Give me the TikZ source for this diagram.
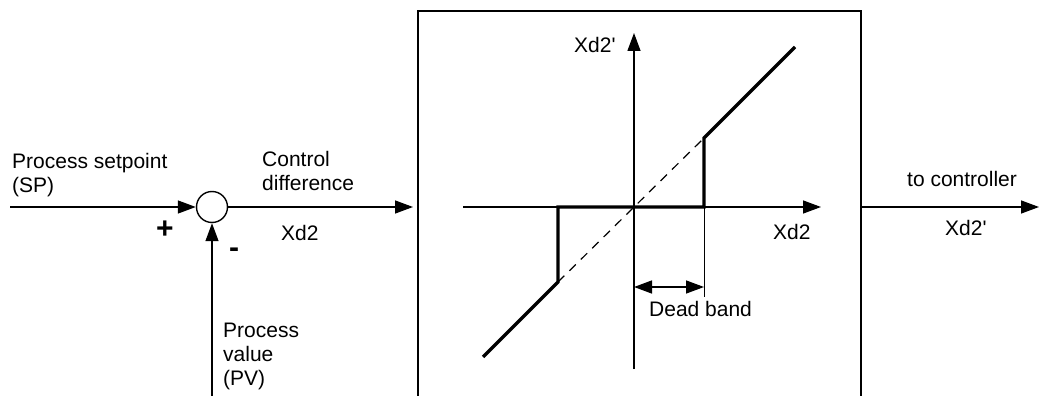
\documentclass[tikz,border=0pt]{standalone}
\usepackage{fontspec}
\setmainfont{Liberation Sans}[Ligatures=TeXOff]
\usetikzlibrary{arrows.meta}
\begin{document}
\begin{tikzpicture}[x=1pt,y=-1pt,
  thinline/.style={line width=1.4pt},
  arr/.style={thinline,-{Triangle[length=18pt,width=13pt]}},
  darr/.style={thinline,{Triangle[length=18pt,width=13pt]}-{Triangle[length=18pt,width=13pt]}},
  lbl/.style={inner sep=0pt,anchor=base west,align=left,font=\fontsize{21}{24}\selectfont},
  sgn/.style={inner sep=0pt,font=\fontsize{30}{30}\selectfont\bfseries},
  curve/.style={line width=3.2pt,line join=miter},
  dashline/.style={line width=1.2pt,dash pattern=on 9pt off 7pt}]
\useasboundingbox (0,0) rectangle (1039,396);
% summing point and block
\node[draw,thinline,circle,minimum size=31pt,inner sep=0pt] (sum) at (212,207) {};
\node[draw,line width=1.8pt,rectangle,anchor=north west,minimum width=443pt,minimum height=392pt,inner sep=0pt] (box) at (417,10) {};
% signal connectors
\coordinate (spin) at (10,207);
\coordinate (pvin) at (212,400);
\coordinate (out) at (1039,207);
\draw[arr] (spin) -- (sum.west);
\draw[arr] (pvin) -- (sum.south);
\draw[arr,shorten >=4pt] (sum.east) -- (box.west |- sum);
\draw[arr] (box.east |- sum) -- (out);
% labels outside (base anchor = last line)
\node[lbl] (lsp) at (12,192) {Process setpoint\\(SP)};
\node[lbl] (lcd) at (262,190) {Control\\difference};
\node[lbl] (lxd) at (281,240) {Xd2};
\node[lbl] (lpv) at (223,385) {Process\\value\\(PV)};
\node[lbl] (ltc) at (907,186) {to controller};
\node[lbl] (lxo) at (945,235) {Xd2'};
\node[sgn] (plus) at (165,230) {+};
\node[sgn] (minus) at (234,253) {-};
% characteristic
\coordinate (O) at (634,207);
\coordinate (xa) at (463,207);
\coordinate (xb) at (821,207);
\coordinate (ya) at (634,369);
\coordinate (yb) at (634,33);
\draw[arr] (xa) -- (xb);
\draw[arr] (ya) -- (yb);
\coordinate (p1) at (483,357);
\coordinate (p2) at (558,282);
\coordinate (p3) at (558,207);
\coordinate (p4) at (704,207);
\coordinate (p5) at (704,138);
\coordinate (p6) at (795,47);
\draw[dashline] (p2) -- (p5);
\draw[curve] (p1) -- (p2) -- (p3) -- (p4) -- (p5) -- (p6);
\coordinate (db) at (704,297);
\draw[line width=1pt] (p4) -- (db);
\coordinate (da) at (634,287);
\coordinate (dc) at (704,287);
\draw[darr] (da) -- (dc);
\node[lbl] (lxy) at (574,53) {Xd2'};
\node[lbl] (lxx) at (773,239) {Xd2};
\node[lbl] (ldb) at (649,316) {Dead band};
\end{tikzpicture}
\end{document}
